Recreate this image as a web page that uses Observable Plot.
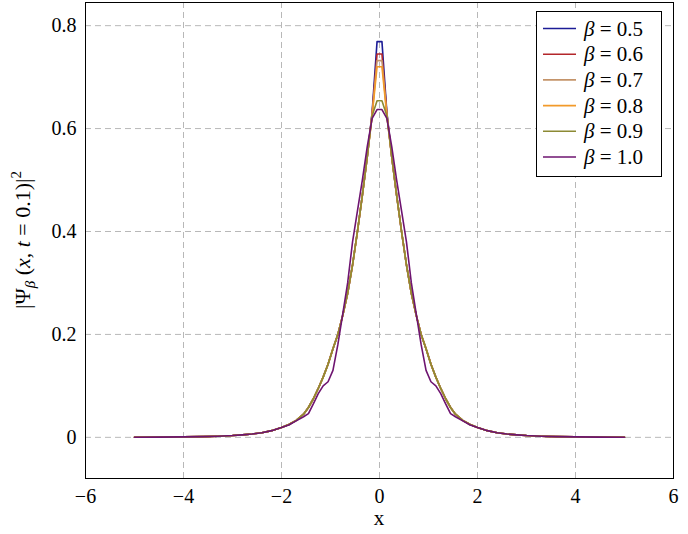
<!DOCTYPE html>
<html>
<head>
<meta charset="utf-8">
<script src="https://cdn.jsdelivr.net/npm/d3@7"></script>
<script src="https://cdn.jsdelivr.net/npm/@observablehq/plot@0.6"></script>
<style>
  html, body { margin: 0; padding: 0; background: #fff; }
  #chart svg { display: block; }
</style>
</head>
<body>
<div id="chart"></div>
<script>
// x sample positions
const xs = [-5,-4.5,-4,-3.6,-3.3,-3,-2.8,-2.6,-2.4,-2.2,-2,-1.85,-1.7,-1.55,-1.45,-1.35,-1.25,-1.15,-1.05,-0.95,-0.85,-0.75,-0.65,-0.55,-0.45,-0.35,-0.25,-0.15,-0.05,
            0.05,0.15,0.25,0.35,0.45,0.55,0.65,0.75,0.85,0.95,1.05,1.15,1.25,1.35,1.45,1.55,1.7,1.85,2,2.2,2.4,2.6,2.8,3,3.3,3.6,4,4.5,5];

const betas = ["0.5","0.6","0.7","0.8","0.9","1.0"];
const colors = ["#1c1c96","#b3262b","#c4946a","#f29a2a","#8c8a34","#6e1470"];

const ys05 = [0.0002,0.0004,0.0008,0.0014,0.0022,0.0035,0.0048,0.0065,0.009,0.013,0.019,0.025,0.033,0.045,0.058,0.075,0.095,0.117,0.142,0.172,0.20,0.237,0.28,0.335,0.40,0.47,0.545,0.632,0.769,
              0.769,0.632,0.545,0.47,0.40,0.335,0.28,0.237,0.20,0.172,0.142,0.117,0.095,0.075,0.058,0.045,0.033,0.025,0.019,0.013,0.009,0.0065,0.0048,0.0035,0.0022,0.0014,0.0008,0.0004,0.0002];
const ys06 = [0.0002,0.0004,0.0008,0.0014,0.0022,0.0035,0.0048,0.0065,0.009,0.013,0.019,0.025,0.033,0.045,0.058,0.075,0.095,0.117,0.142,0.172,0.20,0.237,0.28,0.335,0.40,0.47,0.545,0.63,0.745,
              0.745,0.63,0.545,0.47,0.40,0.335,0.28,0.237,0.20,0.172,0.142,0.117,0.095,0.075,0.058,0.045,0.033,0.025,0.019,0.013,0.009,0.0065,0.0048,0.0035,0.0022,0.0014,0.0008,0.0004,0.0002];
const ys07 = [0.0002,0.0004,0.0008,0.0014,0.0022,0.0035,0.0048,0.0065,0.009,0.013,0.019,0.025,0.033,0.045,0.058,0.075,0.095,0.117,0.142,0.172,0.20,0.237,0.28,0.335,0.40,0.47,0.545,0.628,0.732,
              0.732,0.628,0.545,0.47,0.40,0.335,0.28,0.237,0.20,0.172,0.142,0.117,0.095,0.075,0.058,0.045,0.033,0.025,0.019,0.013,0.009,0.0065,0.0048,0.0035,0.0022,0.0014,0.0008,0.0004,0.0002];
const ys08 = [0.0002,0.0004,0.0008,0.0014,0.0022,0.0035,0.0048,0.0065,0.009,0.013,0.019,0.025,0.033,0.045,0.058,0.075,0.095,0.117,0.142,0.172,0.20,0.237,0.28,0.335,0.40,0.47,0.545,0.625,0.72,
              0.72,0.625,0.545,0.47,0.40,0.335,0.28,0.237,0.20,0.172,0.142,0.117,0.095,0.075,0.058,0.045,0.033,0.025,0.019,0.013,0.009,0.0065,0.0048,0.0035,0.0022,0.0014,0.0008,0.0004,0.0002];
const ys09 = [0.0002,0.0004,0.0008,0.0014,0.0022,0.0035,0.0048,0.0065,0.009,0.013,0.019,0.025,0.033,0.045,0.058,0.075,0.095,0.117,0.142,0.172,0.20,0.237,0.28,0.335,0.40,0.47,0.545,0.625,0.654,
              0.654,0.625,0.545,0.47,0.40,0.335,0.28,0.237,0.20,0.172,0.142,0.117,0.095,0.075,0.058,0.045,0.033,0.025,0.019,0.013,0.009,0.0065,0.0048,0.0035,0.0022,0.0014,0.0008,0.0004,0.0002];
const ys10 = [0.0002,0.0004,0.0008,0.0014,0.0022,0.0035,0.0048,0.0065,0.009,0.013,0.019,0.024,0.032,0.04,0.046,0.065,0.085,0.10,0.108,0.13,0.18,0.24,0.30,0.38,0.44,0.50,0.565,0.62,0.637,
              0.637,0.62,0.565,0.50,0.44,0.38,0.30,0.24,0.18,0.13,0.108,0.10,0.085,0.065,0.046,0.04,0.032,0.024,0.019,0.013,0.009,0.0065,0.0048,0.0035,0.0022,0.0014,0.0008,0.0004,0.0002];

const series = [ys05, ys06, ys07, ys08, ys09, ys10];
const xTicks = [-6,-4,-2,0,2,4,6];
const yTicks = [0,0.2,0.4,0.6,0.8];

const data = [];
series.forEach((ys, i) => ys.forEach((y, j) => data.push({x: xs[j], y, beta: betas[i]})));

const FONT = "'Liberation Serif', 'DejaVu Serif', serif";

const chart = Plot.plot({
  width: 688,
  height: 534,
  marginLeft: 85,
  marginRight: 15,
  marginTop: 2,
  marginBottom: 56,
  style: {fontFamily: FONT, fontSize: "20px", color: "#000", background: "#fff"},
  x: {domain: [-6, 6], label: null},
  y: {domain: [-0.08, 0.845], label: null},
  color: {domain: betas, range: colors},
  marks: [
    Plot.gridX(xTicks, {stroke: "#b8b8b8", strokeOpacity: 1, strokeDasharray: "6,4"}),
    Plot.gridY(yTicks, {stroke: "#b8b8b8", strokeOpacity: 1, strokeDasharray: "6,4"}),
    Plot.line(data, {x: "x", y: "y", z: "beta", stroke: "beta", strokeWidth: 1.6}),
    Plot.frame({stroke: "#000", strokeWidth: 1}),
    Plot.axisX(xTicks, {tickSize: 0, tickPadding: 10, fontSize: 20,
      tickFormat: d => d < 0 ? "\u2212" + (-d) : String(d), label: null}),
    Plot.axisY(yTicks, {tickSize: 0, tickPadding: 9, fontSize: 20,
      tickFormat: d => d === 0 ? "0" : d.toFixed(1), label: null})
  ]
});

document.getElementById("chart").appendChild(chart);

const svg = d3.select(chart);

// x axis label
svg.append("text")
  .attr("x", 379).attr("y", 525)
  .attr("text-anchor", "middle")
  .attr("font-family", FONT).attr("font-size", 21)
  .text("x");

// y axis label
const yl = svg.append("text")
  .attr("transform", "translate(30,240) rotate(-90)")
  .attr("text-anchor", "middle")
  .attr("font-family", FONT).attr("font-size", 22);
yl.append("tspan").text("|Ψ");
yl.append("tspan").attr("font-style", "italic").attr("font-size", 15).attr("dy", 5).text("β");
yl.append("tspan").attr("dy", -5).text(" (");
yl.append("tspan").attr("font-style", "italic").text("x");
yl.append("tspan").text(", ");
yl.append("tspan").attr("font-style", "italic").text("t");
yl.append("tspan").text(" = 0.1)|");
yl.append("tspan").attr("font-size", 15).attr("dy", -9).text("2");

// legend
const lg = svg.append("g").attr("text-anchor", "start");
lg.append("rect").attr("x", 536.5).attr("y", 11.5).attr("width", 125).attr("height", 165)
  .attr("fill", "#fff").attr("stroke", "#000").attr("stroke-width", 1);
betas.forEach((b, i) => {
  const yy = 28.5 + i * 25.7;
  lg.append("line").attr("x1", 543).attr("x2", 576).attr("y1", yy).attr("y2", yy)
    .attr("stroke", colors[i]).attr("stroke-width", 1.6);
  const t = lg.append("text").attr("x", 584).attr("y", yy + 7)
    .attr("text-anchor", "start")
    .attr("font-family", FONT).attr("font-size", 21);
  t.append("tspan").attr("font-style", "italic").text("β");
  t.append("tspan").text(" = " + b);
});
</script>
</body>
</html>
